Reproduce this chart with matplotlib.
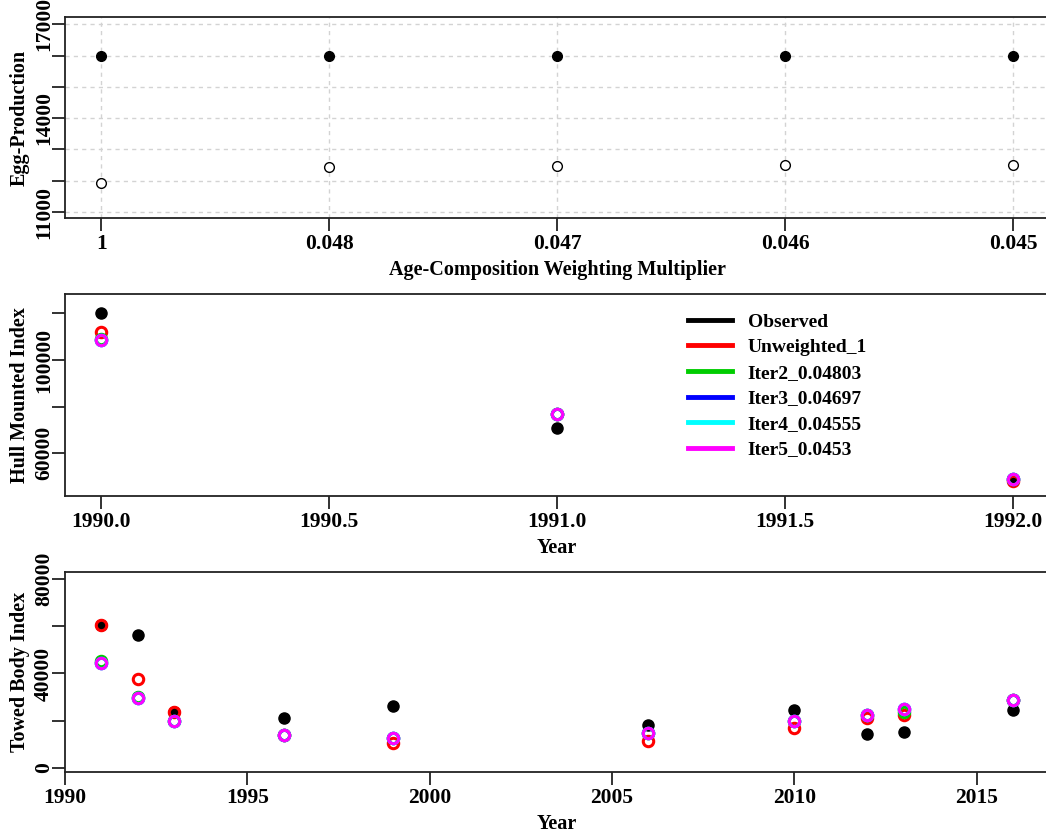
import matplotlib
matplotlib.use("Agg")
import matplotlib.pyplot as plt

# egg production vs weighting multiplier
mult_labels = ["1", "0.048", "0.047", "0.046", "0.045"]
egg_obs = [16000, 16000, 16000, 16000, 16000]
egg_pred = [11920, 12450, 12470, 12500, 12500]

# hull mounted index
hull_years = [1990, 1991, 1992]
hull_obs = [120000, 70800, 48500]
hull_runs = {
    "Unweighted_1": [112100, 76900, 48100],
    "Iter2_0.04803": [108900, 76800, 49000],
    "Iter3_0.04697": [108600, 76800, 49000],
    "Iter4_0.04555": [108600, 76800, 49000],
    "Iter5_0.0453": [108600, 76800, 49000],
}

# towed body index
towed_years = [1991, 1992, 1993, 1996, 1999, 2006, 2010, 2012, 2013, 2016]
towed_obs = [60500, 56500, 23700, 21200, 26300, 18100, 24500, 14400, 15000, 24500]
towed_runs = {
    "Unweighted_1": [60500, 37700, 23700, 14000, 10600, 11500, 17000, 20900, 22200, 28600],
    "Iter2_0.04803": [45400, 30000, 19800, 14100, 12500, 14600, 19900, 22300, 23600, 28700],
    "Iter3_0.04697": [44500, 29400, 19800, 14100, 12500, 14600, 19900, 22300, 24800, 28700],
    "Iter4_0.04555": [44500, 29400, 19800, 14100, 12500, 14600, 19900, 22300, 24800, 28700],
    "Iter5_0.0453": [44500, 29400, 19800, 14100, 12500, 14600, 19900, 22300, 24800, 28700],
}

run_colors = ["red", "#00cd00", "blue", "cyan", "magenta"]

plt.rcParams["font.family"] = "Liberation Serif"
plt.rcParams["font.weight"] = "bold"
TICK_FS = 15.5
LAB_FS = 14.5

fig = plt.figure(figsize=(10.46, 8.34), dpi=100)
L, W = 0.0621, 0.9412
ax1 = fig.add_axes([L, 0.7382, W, 0.2417])
ax2 = fig.add_axes([L, 0.4056, W, 0.2418])
ax3 = fig.add_axes([L, 0.0743, W, 0.2398])


def style_axis(ax):
    for s in ax.spines.values():
        s.set_linewidth(1.3)
        s.set_color("#222222")
    ax.tick_params(direction="out", length=9.5, width=1.3, color="#222222",
                   labelsize=TICK_FS)
    ax.tick_params(axis="x", pad=2)
    ax.tick_params(axis="y", pad=-1.5)
    for lab in ax.get_yticklabels():
        lab.set_rotation(90)
        lab.set_va("center")
    for lab in ax.get_xticklabels() + ax.get_yticklabels():
        lab.set_fontweight("bold")
    ax.yaxis.set_label_coords(-0.0356, 0.5)


# --- panel 1
xpos = list(range(1, len(mult_labels) + 1))
ax1.set_xlim(0.84, 5.16)
ax1.set_ylim(10800, 17240)
eg_ticks = [11000, 12000, 13000, 14000, 15000, 16000, 17000]
ax1.set_yticks(eg_ticks)
ax1.set_yticklabels(["11000", "", "", "14000", "", "", "17000"])
ax1.set_xticks(xpos)
ax1.set_xticklabels(mult_labels)
for y in eg_ticks:
    ax1.axhline(y, color="#d3d3d3", lw=1, ls=(0, (3, 3)), zorder=0)
for x in xpos:
    ax1.axvline(x, color="#d3d3d3", lw=1, ls=(0, (3, 3)), zorder=0)
ax1.plot(xpos, egg_obs, "o", color="black", ms=7, ls="none")
ax1.plot(xpos, egg_pred, "o", mfc="white", mec="black", mew=1.0, ms=7, ls="none")
ax1.set_xlabel("Age-Composition Weighting Multiplier", fontsize=LAB_FS,
               fontweight="bold", labelpad=4)
ax1.set_ylabel("Egg-Production", fontsize=LAB_FS, fontweight="bold")
style_axis(ax1)

# --- panel 2
ax2.set_xlim(1989.92, 1992.08)
ax2.set_ylim(41800, 128300)
ax2.set_xticks([1990.0, 1990.5, 1991.0, 1991.5, 1992.0])
ax2.set_xticklabels(["1990.0", "1990.5", "1991.0", "1991.5", "1992.0"])
ax2.set_yticks([60000, 80000, 100000, 120000])
ax2.set_yticklabels(["60000", "", "100000", ""])
ax2.plot(hull_years, hull_obs, "o", color="black", ms=8, ls="none")
for (name, vals), col in zip(hull_runs.items(), run_colors):
    ax2.plot(hull_years, vals, "o", mfc="none", mec=col, mew=2.2, ms=7.5, ls="none")
ax2.set_xlabel("Year", fontsize=LAB_FS, fontweight="bold", labelpad=4.5)
ax2.set_ylabel("Hull Mounted Index", fontsize=LAB_FS, fontweight="bold")
style_axis(ax2)

handles = [plt.Line2D([], [], color="black", lw=3.5)]
handles += [plt.Line2D([], [], color=c, lw=3.5) for c in run_colors]
labels = ["Observed"] + list(hull_runs.keys())
fig.legend(handles, labels, loc="upper left", bbox_to_anchor=(688 / 1046, 1 - 313 / 834),
           frameon=False, borderpad=0, borderaxespad=0,
           handlelength=2.27, handletextpad=0.8, labelspacing=0.41,
           prop={"weight": "bold", "size": 14})

# --- panel 3
ax3.set_xlim(1990, 2017)
ax3.set_ylim(-1800, 83000)
ax3.set_xticks([1990, 1995, 2000, 2005, 2010, 2015])
ax3.set_yticks([0, 20000, 40000, 60000, 80000])
ax3.set_yticklabels(["0", "", "40000", "", "80000"])
ax3.plot(towed_years, towed_obs, "o", color="black", ms=8, ls="none")
for (name, vals), col in zip(towed_runs.items(), run_colors):
    ax3.plot(towed_years, vals, "o", mfc="none", mec=col, mew=2.2, ms=7.5, ls="none")
ax3.set_xlabel("Year", fontsize=LAB_FS, fontweight="bold", labelpad=4.5)
ax3.set_ylabel("Towed Body Index", fontsize=LAB_FS, fontweight="bold")
style_axis(ax3)

fig.savefig("out.png", dpi=100)
